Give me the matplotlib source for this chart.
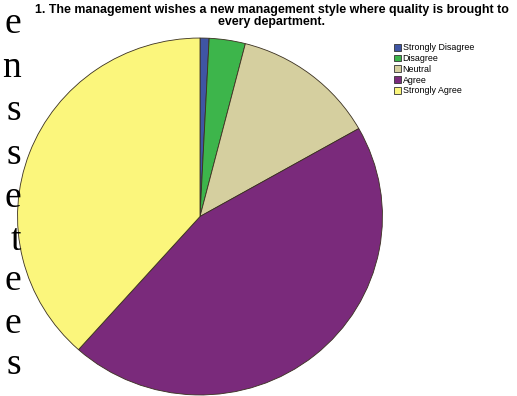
import matplotlib
matplotlib.use("Agg")
import matplotlib.pyplot as plt
from matplotlib.patches import Patch

W, H = 517, 396

categories = ["Strongly Disagree", "Disagree", "Neutral", "Agree", "Strongly Agree"]
counts = [1, 4, 16, 56, 48]
colors = ["#3f55a4", "#3db54b", "#d5cf9f", "#7a2a7b", "#fbf67c"]

title = ("1. The management wishes a new management style where quality is brought to\n"
         "every department.")

# trailing letters of the surrounding page text on the left margin
margin_letters = ["e", "n", "s", "s", "e", "t", "e", "e", "s"]
margin_baselines = [33, 77, 120, 164, 207, 250, 290, 333, 374]

fig = plt.figure(figsize=(W / 100, H / 100), dpi=100)
fig.patch.set_facecolor("white")

# pie axes, slightly wider than tall
ax = fig.add_axes([17 / W, 0.5 / H, 366 / W, 358 / H])
ax.pie(counts, colors=colors, startangle=90, counterclock=False, radius=1,
       wedgeprops={"edgecolor": "#3a3020", "linewidth": 0.6})
ax.set_xlim(-1.003, 1.003)
ax.set_ylim(-1.003, 1.003)
ax.set_aspect("auto")
ax.axis("off")

fig.text(272 / W, 1 - 4 / H, title, ha="center", va="top",
         family="Liberation Sans", weight="bold", fontsize=8.9, linespacing=1.0)

handles = [Patch(facecolor=c, edgecolor="#333333", linewidth=0.6) for c in colors]
leg = fig.legend(handles, categories, loc="upper left",
                 bbox_to_anchor=(388 / W, 1 - 37 / H), frameon=False,
                 prop={"family": "Liberation Sans", "size": 6.4},
                 handlelength=0.8, handleheight=0.8, handletextpad=0.15,
                 labelspacing=0.2, borderpad=0.2)

for ch, yb in zip(margin_letters, margin_baselines):
    fig.text(21 / W, 1 - yb / H, ch, ha="right", va="baseline",
             family="Liberation Serif", fontsize=27, color="black")

fig.savefig("out.png", dpi=100)
